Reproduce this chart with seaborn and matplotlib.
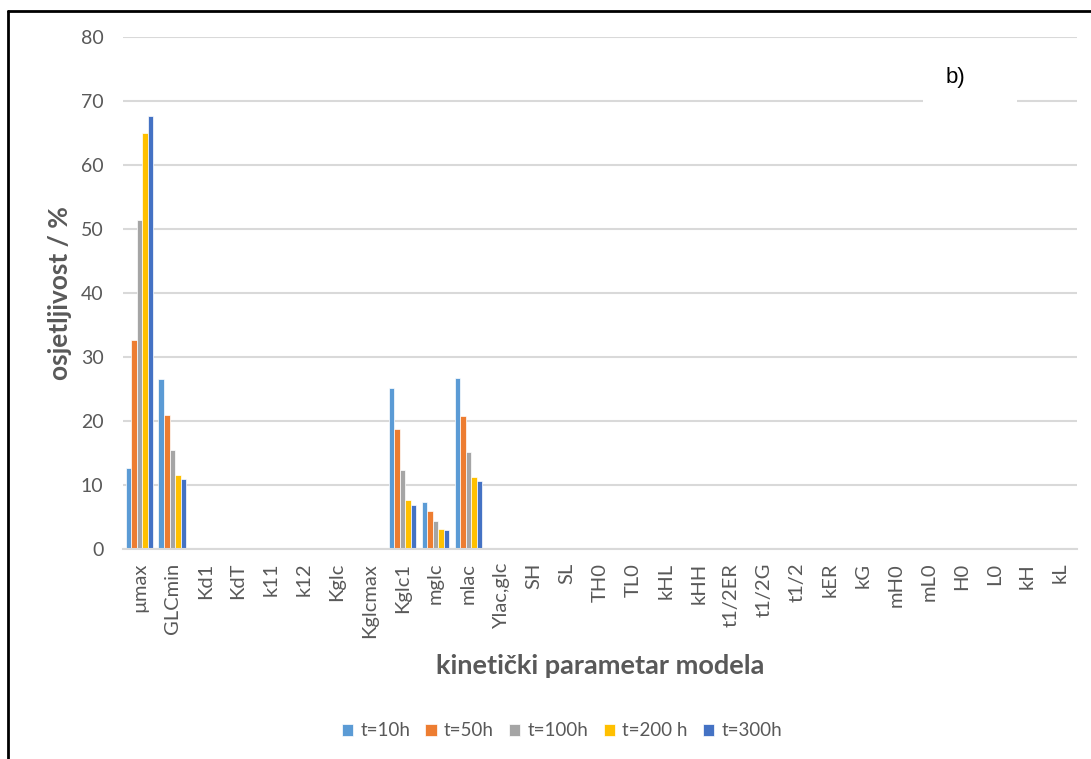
import pandas as pd
import numpy as np
import matplotlib
matplotlib.use("Agg")
import matplotlib.pyplot as plt
import seaborn as sns
from matplotlib.lines import Line2D
from matplotlib.patches import Rectangle

params = ["µmax", "GLCmin", "Kd1", "KdT", "k11", "k12", "Kglc", "Kglcmax", "Kglc1",
          "mglc", "mlac", "Ylac,glc", "SH", "SL", "TH0", "TL0", "kHL", "kHH", "t1/2ER",
          "t1/2G", "t1/2", "kER", "kG", "mH0", "mL0", "H0", "L0", "kH", "kL"]
series = ["t=10h", "t=50h", "t=100h", "t=200 h", "t=300h"]

# osjetljivost (%) po parametru, samo nenulti
t10 = {"µmax": 12.6, "GLCmin": 26.6, "Kglc1": 25.1, "mglc": 7.4, "mlac": 26.7}
t50 = {"µmax": 32.6, "GLCmin": 20.9, "Kglc1": 18.7, "mglc": 6.0, "mlac": 20.7}
t100 = {"µmax": 51.4, "GLCmin": 15.4, "Kglc1": 12.3, "mglc": 4.3, "mlac": 15.1}
t200 = {"µmax": 65.0, "GLCmin": 11.6, "Kglc1": 7.6, "mglc": 3.2, "mlac": 11.2}
t300 = {"µmax": 67.6, "GLCmin": 10.9, "Kglc1": 6.8, "mglc": 3.0, "mlac": 10.6}

colors = ["#5B9BD5", "#ED7D31", "#A5A5A5", "#FFC000", "#4472C4"]

rows = []
for s, d in zip(series, [t10, t50, t100, t200, t300]):
    for p in params:
        rows.append({"param": p, "t": s, "val": d.get(p, 0.0)})
df = pd.DataFrame(rows)

sns.set_style("white")
plt.rcParams["font.family"] = ["Lato", "DejaVu Sans"]
grey = "#595959"

fig = plt.figure(figsize=(10.91, 7.59), dpi=100)
ax = fig.add_axes([0.1127, 0.2767, 0.8744, 0.6746])
sns.barplot(data=df, x="param", y="val", hue="t", order=params, hue_order=series,
            palette=colors, saturation=1, width=0.84, gap=0, edgecolor="white",
            linewidth=0.5, ax=ax, legend=True)

ax.set_ylim(0, 80)
ax.set_xlim(-0.5, len(params) - 0.5)
ax.set_yticks(np.arange(0, 81, 10))
ax.yaxis.grid(True, color="#D9D9D9", linewidth=1.5)
ax.set_axisbelow(True)
for side in ["left", "right", "top"]:
    ax.spines[side].set_visible(False)
ax.spines["bottom"].set_color("#D9D9D9")
ax.spines["bottom"].set_linewidth(1.5)
ax.tick_params(axis="y", length=0, pad=14, labelsize=14, labelcolor=grey)
ax.tick_params(axis="x", length=0, pad=10, labelsize=14.5, labelcolor=grey, rotation=90)

ax.set_ylabel("osjetljivost / %", fontsize=19, fontweight="bold", color=grey, labelpad=6)
ax.set_xlabel("kinetički parametar modela", fontsize=19.5, fontweight="bold", color=grey, labelpad=12)

h, l = ax.get_legend_handles_labels()
ax.legend(h, l, loc="center", bbox_to_anchor=(562 / 1091, 28 / 759), bbox_transform=fig.transFigure,
          ncol=5, frameon=False, fontsize=13.5, handlelength=0.6, handleheight=0.6,
          handletextpad=0.4, columnspacing=0.8, labelcolor=grey)

W, H = 1091, 759
fig.add_artist(Rectangle((923 / W, 1 - 103 / H), 94 / W, 45 / H, transform=fig.transFigure,
                         facecolor="white", edgecolor="none", zorder=3))
fig.text(955 / W, 1 - 78 / H, "b)", fontsize=16, color="black", ha="center", va="center",
         family=["Liberation Sans", "DejaVu Sans"], zorder=4)

fig.add_artist(Line2D([8 / W, 8 / W], [0, 1 - 11 / H], transform=fig.transFigure,
                      color="black", linewidth=2))
fig.add_artist(Line2D([8 / W, 1], [1 - 11 / H, 1 - 11 / H], transform=fig.transFigure,
                      color="black", linewidth=2))

fig.savefig("out.png", dpi=100)
